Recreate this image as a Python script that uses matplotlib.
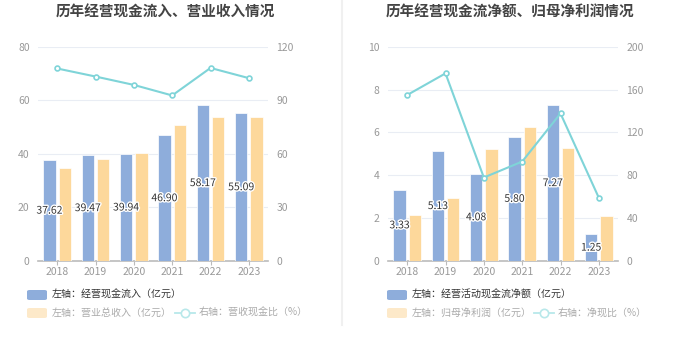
import matplotlib
matplotlib.use("Agg")
import matplotlib.pyplot as plt
import matplotlib.patheffects as pe
from matplotlib.patches import FancyBboxPatch
from matplotlib.lines import Line2D
import numpy as np

plt.rcParams['font.family'] = ['Noto Sans CJK SC', 'DejaVu Sans']

years = ["2018", "2019", "2020", "2021", "2022", "2023"]

# left chart
cash_inflow = [37.62, 39.47, 39.94, 46.90, 58.17, 55.09]
revenue = [34.9, 38.2, 40.5, 50.6, 53.8, 53.8]
cash_rev_ratio = [107.8, 103.3, 98.6, 92.7, 108.1, 102.4]

# right chart
net_cash = [3.33, 5.13, 4.08, 5.80, 7.27, 1.25]
net_profit = [2.15, 2.93, 5.24, 6.25, 5.28, 2.12]
net_ratio = [154.9, 175.1, 77.9, 92.8, 137.7, 59.0]

titles = ["历年经营现金流入、营业收入情况", "历年经营现金流净额、归母净利润情况"]
legend_texts = [
    ["左轴：经营现金流入（亿元）", "左轴：营业总收入（亿元）", "右轴：营收现金比（%）"],
    ["左轴：经营活动现金流净额（亿元）", "左轴：归母净利润（亿元）", "右轴：净现比（%）"],
]
left_ticks = [[0, 20, 40, 60, 80], [0, 2, 4, 6, 8, 10]]
right_ticks = [[0, 30, 60, 90, 120], [0, 40, 80, 120, 160, 200]]

BLUE = "#8eaddb"
ORANGE = "#fdd89b"
LINE = "#7fd4d8"
GRID = "#e9edf4"
TICKC = "#999999"

W, H = 680, 349
fig = plt.figure(figsize=(W / 100, H / 100), dpi=100)

def fx(px):
    return px / W

def fy(py):
    return 1 - py / H

panels = [
    dict(x0=38, x1=268, bars=(cash_inflow, revenue), ratio=cash_rev_ratio,
         title_x=165, leg_x=27, line_x=175),
    dict(x0=388, x1=618, bars=(net_cash, net_profit), ratio=net_ratio,
         title_x=510, leg_x=387, line_x=534),
]

top, bot = 46.7, 261
for i, p in enumerate(panels):
    ax = fig.add_axes([fx(p["x0"]), fy(bot), fx(p["x1"] - p["x0"]), (bot - top) / H])
    x = np.arange(len(years))
    b1, b2 = p["bars"]
    bw = 0.33
    ax.bar(x - 0.2, b1, width=bw, color=BLUE, edgecolor="white", linewidth=0.5, zorder=3)
    ax.bar(x + 0.2, b2, width=bw, color=ORANGE, edgecolor="white", linewidth=0.5, zorder=3)
    for xi, v in zip(x, b1):
        ax.text(xi - 0.2, v / 2, f"{v:.2f}", ha="center", va="center", fontsize=7.5,
                color="#333333", zorder=6,
                path_effects=[pe.withStroke(linewidth=2, foreground="white")])
    lt = left_ticks[i]
    ax.set_ylim(0, lt[-1])
    ax.set_yticks(lt)
    ax.set_xlim(-0.5, len(years) - 0.5)
    ax.set_xticks(x)
    ax.set_xticklabels(years)
    ax.grid(axis="y", color=GRID, linewidth=0.8, zorder=0)
    ax.set_axisbelow(True)
    for s in ["top", "right", "left"]:
        ax.spines[s].set_visible(False)
    ax.spines["bottom"].set_color("#bbbbbb")
    ax.spines["bottom"].set_linewidth(1.2)
    ax.tick_params(axis="y", length=0, labelsize=7.5, labelcolor=TICKC, pad=6)
    ax.tick_params(axis="x", length=3, color="#bbbbbb", labelsize=7.5, labelcolor=TICKC, pad=1)

    ax2 = ax.twinx()
    rt = right_ticks[i]
    ax2.set_ylim(0, rt[-1])
    ax2.set_yticks(rt)
    ax2.plot(x, p["ratio"], color=LINE, linewidth=1.5, marker="o", markersize=3.5,
             markerfacecolor="white", markeredgecolor=LINE, markeredgewidth=1.2, zorder=5)
    for s in ["top", "right", "left", "bottom"]:
        ax2.spines[s].set_visible(False)
    ax2.tick_params(axis="y", length=0, labelsize=7.5, labelcolor=TICKC, pad=6)

    fig.text(fx(p["title_x"]), fy(12), titles[i], ha="center", va="center",
             fontsize=10.5, fontweight="bold", color="#444444")

    # legend
    lx = p["leg_x"]
    for row, (yc, fc, tc) in enumerate([(295, BLUE, "#333333"), (313, "#fde9c9", "#aaaaaa")]):
        patch = FancyBboxPatch((fx(lx), fy(yc + 5)), fx(20), 10 / H,
                               boxstyle="round,pad=0,rounding_size=0.004",
                               transform=fig.transFigure, facecolor=fc, edgecolor="none")
        fig.patches.append(patch)
        fig.text(fx(lx + 25), fy(yc), legend_texts[i][row], ha="left", va="center",
                 fontsize=7.2, color=tc)
    lnx = p["line_x"]
    fig.lines.append(Line2D([fx(lnx), fx(lnx + 20)], [fy(313), fy(313)],
                            transform=fig.transFigure, color="#b8e8ea", linewidth=1.3))
    fig.lines.append(Line2D([fx(lnx + 10)], [fy(313)], transform=fig.transFigure,
                            marker="o", markersize=6, markerfacecolor="white",
                            markeredgecolor="#b8e8ea", markeredgewidth=1.2, linestyle="none"))
    fig.text(fx(lnx + 24), fy(313), legend_texts[i][2], ha="left", va="center",
             fontsize=7.2, color="#aaaaaa")

fig.lines.append(Line2D([fx(341.5), fx(341.5)], [fy(0), fy(325)], transform=fig.transFigure,
                        color="#f0f0f0", linewidth=1.5))

fig.savefig("out.png", dpi=100, facecolor="white")
